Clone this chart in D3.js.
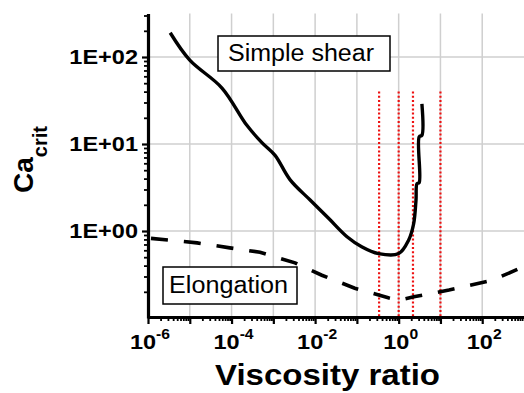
<!DOCTYPE html>
<html>
<head>
<meta charset="utf-8">
<script src="https://cdn.jsdelivr.net/npm/d3@7"></script>
<style>
	body { margin: 0; background: #fff; }
	svg { display: block; font-family: "Liberation Sans", Arial, sans-serif; }
</style>
</head>
<body>
<svg id="chart" width="524" height="393"></svg>
<script>
// Simple shear curve (viscosity ratio, Ca_crit)
const shearRatio = [3.4e-6, 1e-5, 5.9e-5, 2.3e-4, 5.4e-4, 1.1e-3, 2.5e-3, 7.6e-3, 2.1e-2, 5.8e-2, 0.13, 0.33, 1.0, 1.74, 2.29, 2.6, 2.75, 3.1, 3.1, 3.6, 3.6];
const shearCa = [190, 92, 44, 16.5, 10.3, 7.4, 3.9, 2.27, 1.4, 0.86, 0.66, 0.55, 0.55, 0.79, 1.22, 2.27, 3.5, 3.6, 12.1, 12.6, 29];

// Elongation curve
const elongRatio = [1e-6, 1.5e-5, 9.1e-5, 4.8e-4, 3.3e-3, 1.45e-2, 8.9e-2, 0.59, 1.0, 2.3, 16, 170, 1000];
const elongCa = [0.83, 0.73, 0.64, 0.57, 0.43, 0.31, 0.22, 0.17, 0.16, 0.175, 0.21, 0.27, 0.39];

// red dotted markers
const markerRatios = [0.34, 1, 2.2, 10];
const markerTop = 40;

const yTickValues = [1, 10, 100];
const yTickLabels = ["1E+00", "1E+01", "1E+02"];
const xLabelExponents = [-6, -4, -2, 0, 2];

const svg = d3.select("#chart");
const x = d3.scaleLog().domain([1e-6, 1e3]).range([148, 524]);
const y = d3.scaleLog().domain([0.1, Math.pow(10, 2.5)]).range([318, 13.5]);

const xDecades = d3.range(-6, 4).map((e) => Math.pow(10, e));
const xMinor = [];
for (let e = -6; e < 3; e++) {
	for (let m = 2; m < 10; m++) xMinor.push(m * Math.pow(10, e));
}
const yMinor = [];
for (let e = -1; e < 3; e++) {
	for (let m = 2; m < 10; m++) {
		const v = m * Math.pow(10, e);
		if (v <= y.domain()[1]) yMinor.push(v);
	}
}

// grid
const grid = svg.append("g").attr("stroke", "#cfcfcf").attr("stroke-width", 1.5);
grid.selectAll(".gx")
	.data(xDecades.slice(1, -1))
	.join("line")
	.attr("x1", (d) => x(d)).attr("x2", (d) => x(d))
	.attr("y1", y.range()[1]).attr("y2", y.range()[0]);
grid.selectAll(".gy")
	.data(yTickValues)
	.join("line")
	.attr("x1", x.range()[0]).attr("x2", x.range()[1])
	.attr("y1", (d) => y(d)).attr("y2", (d) => y(d));

// red dotted lines
svg.append("g")
	.selectAll("line")
	.data(markerRatios)
	.join("line")
	.attr("x1", (d) => x(d)).attr("x2", (d) => x(d))
	.attr("y1", y(markerTop)).attr("y2", y(0.1))
	.attr("stroke", "#ee1111")
	.attr("stroke-width", 2.2)
	.attr("stroke-dasharray", "2,2.2");

const line = d3.line().x((d) => x(d[0])).y((d) => y(d[1]));

svg.append("path")
	.datum(d3.zip(shearRatio, shearCa))
	.attr("d", line.curve(d3.curveCatmullRom.alpha(0.5)))
	.attr("fill", "none")
	.attr("stroke", "#000")
	.attr("stroke-width", 3.4)
	.attr("stroke-linejoin", "round");

svg.append("path")
	.datum(d3.zip(elongRatio, elongCa))
	.attr("d", line.curve(d3.curveLinear))
	.attr("fill", "none")
	.attr("stroke", "#000")
	.attr("stroke-width", 3.6)
	.attr("stroke-dasharray", "17,16")
	.attr("stroke-dashoffset", -3);

// label boxes
function labelBox(bx, by, bw, bh, text, tx, ty, tlen) {
	const g = svg.append("g");
	g.append("rect")
		.attr("x", bx).attr("y", by).attr("width", bw).attr("height", bh)
		.attr("fill", "#fff").attr("stroke", "#000").attr("stroke-width", 1.5);
	g.append("text")
		.attr("x", tx).attr("y", ty)
		.attr("font-size", 23)
		.attr("textLength", tlen)
		.attr("lengthAdjust", "spacingAndGlyphs")
		.text(text);
}
labelBox(218, 36, 172, 35, "Simple shear", 228, 61, 146);
labelBox(163, 267, 134, 37, "Elongation", 169, 292.5, 119);

// axes
const xAxis = svg.append("g").attr("transform", `translate(0,${y.range()[0] - 1})`);
xAxis.append("g")
	.call(d3.axisBottom(x).tickValues(xMinor).tickFormat("").tickSize(4).tickSizeOuter(0))
	.call((g) => g.select(".domain").remove())
	.selectAll("line").attr("stroke-width", 1.8);
xAxis.append("g")
	.call(d3.axisBottom(x).tickValues(xDecades.slice(0, -1)).tickFormat("").tickSize(7).tickSizeOuter(0))
	.call((g) => g.select(".domain").attr("stroke-width", 3.2))
	.selectAll("line").attr("stroke-width", 2.2);

xAxis.selectAll(".xlab")
	.data(xLabelExponents)
	.join("text")
	.attr("transform", (d) => `translate(${x(Math.pow(10, d)) + 2},32) scale(1.12,1)`)
	.attr("text-anchor", "middle")
	.attr("font-weight", "bold")
	.attr("font-size", 21)
	.attr("font-family", "'Liberation Sans', Arial, sans-serif")
	.each(function (d) {
		const t = d3.select(this);
		t.append("tspan").text("10");
		t.append("tspan").attr("font-size", 14).attr("dy", -10).text(d);
	});

const yAxis = svg.append("g").attr("transform", `translate(${x.range()[0]},0)`);
yAxis.append("g")
	.call(d3.axisLeft(y).tickValues(yMinor).tickFormat("").tickSize(4).tickSizeOuter(0))
	.call((g) => g.select(".domain").remove())
	.selectAll("line").attr("stroke-width", 1.8);
yAxis.append("g")
	.call(d3.axisLeft(y).tickValues(yTickValues)
		.tickFormat((d, i) => yTickLabels[i]).tickSize(6).tickSizeOuter(0))
	.call((g) => g.select(".domain").attr("stroke-width", 3.2))
	.call((g) => g.selectAll("line").attr("stroke-width", 2.2))
	.selectAll("text")
	.attr("x", 0)
	.attr("transform", "translate(-10,0) scale(1.12,1)")
	.attr("font-size", 21)
	.attr("font-weight", "bold")
	.attr("font-family", "'Liberation Sans', Arial, sans-serif")
	.attr("fill", "#000");

// axis titles
svg.append("text")
	.attr("x", 215).attr("y", 385)
	.attr("font-size", 29)
	.attr("font-weight", "bold")
	.attr("textLength", 225)
	.attr("lengthAdjust", "spacingAndGlyphs")
	.text("Viscosity ratio");

const yTitle = svg.append("text")
	.attr("transform", "translate(33,193) rotate(-90)")
	.attr("font-weight", "bold")
	.attr("font-size", 28);
yTitle.append("tspan").text("Ca");
yTitle.append("tspan").attr("font-size", 20).attr("dy", 14).text("crit");
</script>
</body>
</html>
